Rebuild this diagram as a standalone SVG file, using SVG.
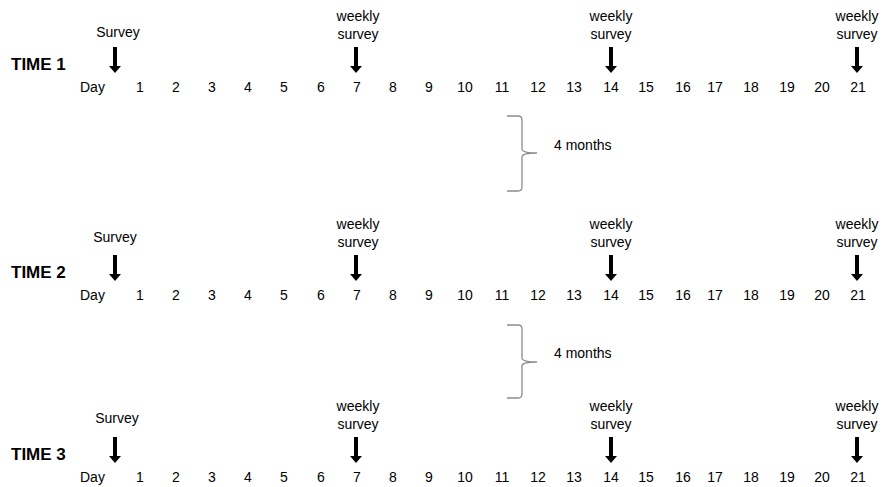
<svg xmlns="http://www.w3.org/2000/svg" xmlns:xlink="http://www.w3.org/1999/xlink" width="892" height="487" viewBox="0 0 892 487">
<style>
text{font-family:"Liberation Sans","Open Sans",sans-serif;font-size:14px;fill:#000}
.t{font-size:17px;font-weight:bold}
.c{text-anchor:middle}
.brace{fill:none;stroke:#8c8c8c;stroke-width:1.3}
</style>
<defs>
<path id="arr" d="M-2,0 H2 V19 H6 L0,26 L-6,19 H-2 Z" fill="#000"/>
<g id="days">
<text x="80" y="92">Day</text>
<g class="c">
<text x="140" y="92">1</text><text x="176" y="92">2</text><text x="212" y="92">3</text><text x="248" y="92">4</text><text x="284" y="92">5</text><text x="321" y="92">6</text><text x="357" y="92">7</text><text x="393" y="92">8</text><text x="429" y="92">9</text><text x="465" y="92">10</text><text x="502" y="92">11</text><text x="538" y="92">12</text><text x="574" y="92">13</text><text x="611" y="92">14</text><text x="646" y="92">15</text><text x="683" y="92">16</text><text x="715" y="92">17</text><text x="751" y="92">18</text><text x="787" y="92">19</text><text x="822" y="92">20</text><text x="858" y="92">21</text>
</g>
</g>
</defs>

<g id="time1">
<text class="t" x="11" y="70">TIME 1</text>
<use xlink:href="#days"/>
<g id="t1-survey"><text class="c" x="118" y="37">Survey</text><use xlink:href="#arr" x="115" y="47"/></g>
<g id="t1-w7"><text class="c" x="358" y="21">weekly</text><text class="c" x="358" y="39">survey</text><use xlink:href="#arr" x="356" y="47"/></g>
<g id="t1-w14"><text class="c" x="611" y="21">weekly</text><text class="c" x="611" y="39">survey</text><use xlink:href="#arr" x="611" y="47"/></g>
<g id="t1-w21"><text class="c" x="857" y="21">weekly</text><text class="c" x="857" y="39">survey</text><use xlink:href="#arr" x="857" y="47"/></g>
</g>

<g id="gap1">
<path class="brace" d="M507,116 H518 Q522,116 522,120 V149 Q522,153 537,153 Q522,153 522,157 V187 Q522,191 518,191 H507"/>
<text x="554" y="150">4 months</text>
</g>

<g id="time2" transform="translate(0,208)">
<text class="t" x="11" y="70">TIME 2</text>
<use xlink:href="#days"/>
<g id="t2-survey"><text class="c" x="115" y="34">Survey</text><use xlink:href="#arr" x="115" y="47"/></g>
<g id="t2-w7"><text class="c" x="358" y="21">weekly</text><text class="c" x="358" y="39">survey</text><use xlink:href="#arr" x="356" y="47"/></g>
<g id="t2-w14"><text class="c" x="611" y="21">weekly</text><text class="c" x="611" y="39">survey</text><use xlink:href="#arr" x="611" y="47"/></g>
<g id="t2-w21"><text class="c" x="857" y="21">weekly</text><text class="c" x="857" y="39">survey</text><use xlink:href="#arr" x="857" y="47"/></g>
</g>

<g id="gap2">
<path class="brace" d="M507,325 H518 Q522,325 522,329 V358 Q522,362 537,362 Q522,362 522,366 V394 Q522,398 518,398 H507"/>
<text x="554" y="358">4 months</text>
</g>

<g id="time3" transform="translate(0,390)">
<text class="t" x="11" y="70">TIME 3</text>
<use xlink:href="#days"/>
<g id="t3-survey"><text class="c" x="117" y="33">Survey</text><use xlink:href="#arr" x="115" y="47"/></g>
<g id="t3-w7"><text class="c" x="358" y="21">weekly</text><text class="c" x="358" y="39">survey</text><use xlink:href="#arr" x="356" y="47"/></g>
<g id="t3-w14"><text class="c" x="611" y="21">weekly</text><text class="c" x="611" y="39">survey</text><use xlink:href="#arr" x="611" y="47"/></g>
<g id="t3-w21"><text class="c" x="857" y="21">weekly</text><text class="c" x="857" y="39">survey</text><use xlink:href="#arr" x="857" y="47"/></g>
</g>
</svg>
